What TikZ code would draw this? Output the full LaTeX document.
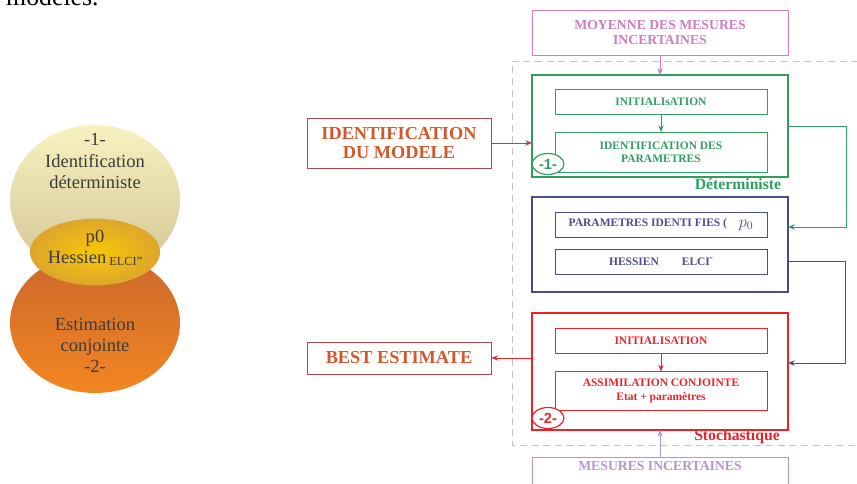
\documentclass[tikz,border=0pt]{standalone}
\usepackage{fontspec}
\setmainfont{Liberation Serif}
\newfontfamily\tagfont{Liberation Sans}
\usetikzlibrary{arrows.meta,shapes,positioning,calc}
\definecolor{detgreen}{HTML}{2F9E5E}
\definecolor{hesblue}{HTML}{4B4B8F}
\definecolor{stored}{HTML}{E8242A}
\definecolor{moypink}{HTML}{CC7DC4}
\definecolor{mesviolet}{HTML}{B596CC}
\definecolor{boxbrown}{HTML}{B24545}
\definecolor{txtorange}{HTML}{D2582C}
\definecolor{framegray}{HTML}{C9BCD9}
\definecolor{darktext}{HTML}{3C3C3C}
\definecolor{paletop}{HTML}{F8F2C0}
\definecolor{palebot}{HTML}{D3C394}
\definecolor{rusttop}{HTML}{CB672D}
\definecolor{rustbot}{HTML}{F38622}
\definecolor{goldin}{HTML}{F8C608}
\definecolor{goldout}{HTML}{DDA62C}
\tikzset{
    stage/.style={draw, line width=1.2pt, minimum width=7.68cm, inner sep=0pt, outer sep=0pt},
    task/.style={draw, line width=0.6pt, minimum width=6.36cm, minimum height=0.75cm, inner sep=0pt, outer sep=0pt, align=center, font=\fontsize{9.8}{11.5}\selectfont\bfseries},
    source/.style={draw, line width=0.8pt, minimum width=7.68cm, inner sep=0pt, align=center, font=\fontsize{11.7}{13.5}\selectfont\bfseries},
    result/.style={draw=boxbrown, line width=0.8pt, text=txtorange, minimum width=5.52cm, inner sep=0pt, align=center, font=\fontsize{15.6}{17}\selectfont\bfseries},
    tag/.style={draw, ellipse, line width=1pt, minimum width=0.96cm, minimum height=0.63cm, inner sep=0pt, font=\tagfont\bfseries\fontsize{12.5}{13}\selectfont},
    flow/.style={-{Stealth[length=2mm, width=1.6mm]}, line width=0.8pt},
    blob/.style={ellipse, text=darktext, align=center, font=\fontsize{15.8}{18}\selectfont}
}

\begin{document}
\begin{tikzpicture}[x=0.03cm, y=-0.03cm]
\useasboundingbox (0,0) rectangle (857,484);

% bout de texte coupe en haut
\node[anchor=base west, inner sep=0pt, font=\fontsize{22}{24}\selectfont] (mots) at (6,6) {modèles.};

% les deux cercles
\node[ellipse, minimum width=5.1cm, minimum height=4.5cm, top color=paletop, bottom color=palebot] (cercleA) at (95,200) {};
\node[ellipse, minimum width=5.1cm, minimum height=4.2cm, top color=rusttop, bottom color=rustbot] (cercleB) at (95,323) {};
\node[ellipse, minimum width=3.9cm, minimum height=2cm, inner color=goldin, outer color=goldout] (lentille) at (95,252) {};
\node[blob] (txtA) at (95,161) {-1-\\Identification\\déterministe};
\node[blob] (txtL) at (95,248) {p0\\Hessien\,\raisebox{-2pt}{\fontsize{10.5}{11}\selectfont ELCI"}};
\node[blob] (txtB) at (95,345) {Estimation\\conjointe\\-2-};

% cadre pointille
\draw[framegray, dashed, dash pattern=on 6pt off 4pt, line width=0.8pt] (870,61) -| (512,445) -- (870,445);

% entrees
\node[source, draw=moypink, text=moypink, minimum height=1.35cm] (moyenne) at (660,32.5) {MOYENNE DES MESURES\\INCERTAINES};
\node[source, draw=mesviolet, text=mesviolet, minimum height=1.1cm] (mesures) at (660,476) {MESURES INCERTAINES\\[4pt]};

% etape deterministe
\node[stage, draw=detgreen, minimum height=3.06cm] (det) at (660,126) {};
\node[task, draw=detgreen, text=detgreen] (init1) at (661,101.5) {INITIALIsATION};
\node[task, draw=detgreen, text=detgreen, minimum height=1.2cm, below=0.54cm of init1] (ident) {IDENTIFICATION DES\\PARAMETRES};
\node[tag, draw=detgreen, text=detgreen, fill=white] (tag1) at (548,164) {-1-};
\node[text=detgreen, font=\fontsize{13.4}{15}\selectfont\bfseries] (detlbl) at (738,184) {Déterministe};

% parametres identifies
\node[stage, draw=hesblue, minimum height=2.85cm] (params) at (660,244.5) {};
\node[task, draw=hesblue, text=hesblue] (pident) at (661,224.5) {PARAMETRES IDENTI FIES (\quad\raisebox{-1pt}{\fontsize{14}{15}\selectfont$p_0$}};
\node[task, draw=hesblue, text=hesblue, below=0.36cm of pident] (hess) {HESSIEN\qquad ELCI\raisebox{3pt}{\tiny"}};

% etape stochastique
\node[stage, draw=stored, minimum height=3.51cm] (sto) at (660,371.5) {};
\node[task, draw=stored, text=stored] (init2) at (661,341) {INITIALISATION};
\node[task, draw=stored, text=stored, minimum height=1.17cm, below=0.54cm of init2] (assim) {ASSIMILATION CONJOINTE\\Etat + paramètres};
\node[tag, draw=stored, text=stored, fill=white] (tag2) at (548,418) {-2-};
\node[text=stored, font=\fontsize{13.4}{15}\selectfont\bfseries] (stolbl) at (737,437) {Stochastique};

% sorties a gauche
\node[result, minimum height=1.5cm] (modele) at (399,143) {IDENTIFICATION\\DU MODELE};
\node[result, minimum height=0.96cm] (best) at (399,358) {BEST ESTIMATE};

% fleches
\draw[flow, boxbrown] (modele.east) -- (modele.east -| det.west);
\draw[flow, stored] (sto.west |- best.east) -- (best.east);
\draw[flow, moypink] (moyenne.south) -- (det.north);
\draw[flow, mesviolet] (mesures.north) -- (sto.south);
\draw[flow, detgreen] (init1.south) -- (ident.north);
\draw[flow, stored] (init2.south) -- (assim.north);
\draw[flow, detgreen] (det.east) -- ++(58,0) |- ($(params.east)+(0,-17.5)$);
\draw[flow, hesblue] (hess.east -| params.east) -- ++(57,0) |- ($(sto.east)+(0,-8.5)$);
\end{tikzpicture}
\end{document}
